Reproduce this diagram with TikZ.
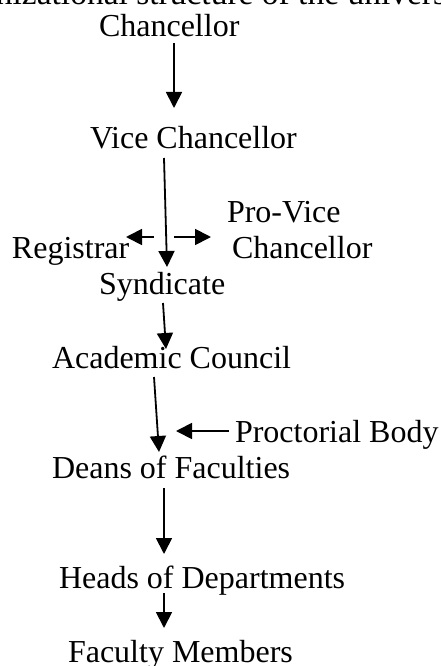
\documentclass[tikz,border=0pt]{standalone}
\usepackage{fontspec}
\setmainfont{Liberation Serif}
\usetikzlibrary{arrows.meta,calc}
\tikzset{
  lbl/.style={anchor=base west, inner sep=0pt, outer sep=0pt, font=\fontsize{32}{36}\selectfont, text height=22pt, text depth=7pt},
  arr/.style={line width=1.8pt, -{Triangle[width=16pt,length=16pt]}},
}
\begin{document}
\begin{tikzpicture}[x=1pt,y=-1pt]
\useasboundingbox (0,0) rectangle (440,666);
\clip (0,0) rectangle (440,666);
\fill[white] (0,0) rectangle (440,666);
\node[lbl, font=\fontsize{33.5}{38}\selectfont] (title) at (-70.5,5) {Organizational structure of the university};
\node[lbl] (chan) at (99,37) {Chancellor};
\node[lbl] (vc) at (90,148) {Vice Chancellor};
\node[anchor=base west, inner sep=0pt, outer sep=0pt, font=\fontsize{32}{36}\selectfont] (pvc) at (227,258)
  {\begin{tabular}[b]{@{}l@{}}Pro-Vice\\\hspace{5pt}Chancellor\end{tabular}};
\node[lbl] (reg) at (12,258) {Registrar};
\node[lbl] (syn) at (99,294) {Syndicate};
\node[lbl] (ac) at (52,368) {Academic Council};
\node[lbl] (proc) at (235,442) {Proctorial Body};
\node[lbl] (deans) at (52,478) {Deans of Faculties};
\node[lbl] (heads) at (59,588) {Heads of Departments};
\node[lbl] (fac) at (68,662) {Faculty Members};
% connectors
\draw[arr] ($(chan.base west)+(75,6)$) -- ($(vc.base west)+(84,-40)$);
\draw[arr] ($(vc.base west)+(74,10)$) -- ($(syn.base west)+(68,-27)$);
\draw[arr] ($(reg.base west)+(142,-21)$) -- ($(reg.base west)+(114,-21)$);
\draw[arr] ($(pvc.base west)+(-53,-21)$) -- ($(pvc.base west)+(-16,-21)$);
\draw[arr] ($(syn.base west)+(64,9)$) -- ($(ac.base west)+(114,-19)$);
\draw[arr] ($(ac.base west)+(102,9)$) -- ($(deans.base west)+(107,-26)$);
\draw[arr] ($(proc.base west)+(-6,-11)$) -- ($(proc.base west)+(-59,-11)$);
\draw[arr] ($(deans.base west)+(112,10)$) -- ($(heads.base west)+(105,-34)$);
\draw[arr] ($(heads.base west)+(105,5)$) -- ($(fac.base west)+(96,-34)$);
\end{tikzpicture}
\end{document}
